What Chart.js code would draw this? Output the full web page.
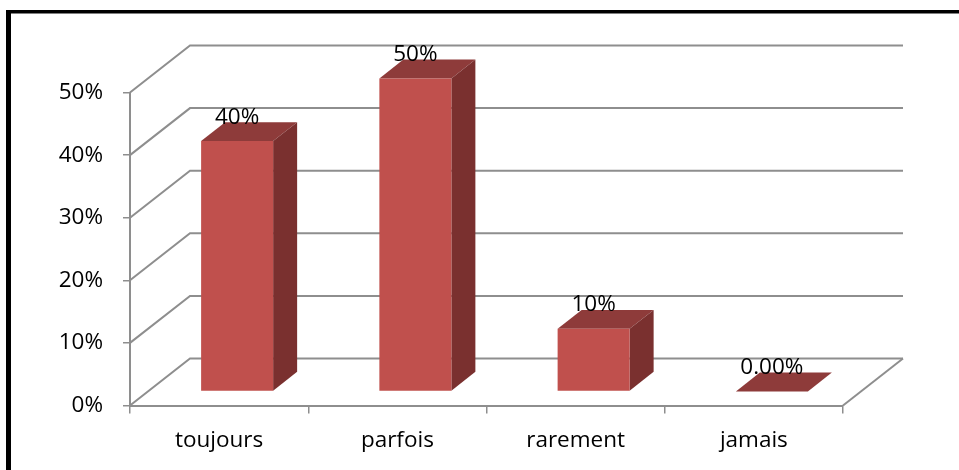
<!DOCTYPE html>
<html>
<head>
<meta charset="utf-8">
<script src="https://cdn.jsdelivr.net/npm/chart.js@4.4.0/dist/chart.umd.min.js"></script>
<style>
    html, body { margin: 0; padding: 0; background: #fff; }
    #freqChart { display: block; }
</style>
</head>
<body>
<canvas id="freqChart" width="959" height="470"></canvas>
<script>
// Données du graphique
const categories = ['toujours', 'parfois', 'rarement', 'jamais'];
const shares = [0.40, 0.50, 0.10, 0.00];
const shareLabels = ['40%', '50%', '10%', '0.00%'];
const yTickValues = [0, 0.1, 0.2, 0.3, 0.4, 0.5];

// Profondeur de la boîte 3D (décalage du plan arrière)
const DEPTH_DX = 60;
const DEPTH_DY = -47;
const BAR_Z_FRONT = 0.3;
const BAR_Z_BACK = 0.7;

const FONT = { family: "'Open Sans', sans-serif", size: 22.5 };
const GRID_COLOR = '#8e8e8e';
const FRONT_COLOR = '#c0504d';
const TOP_COLOR = '#8e3b3a';
const SIDE_COLOR = '#7a302f';

function poly(ctx, pts, color) {
    ctx.beginPath();
    ctx.moveTo(pts[0][0], pts[0][1]);
    for (let i = 1; i < pts.length; i++) ctx.lineTo(pts[i][0], pts[i][1]);
    ctx.closePath();
    ctx.fillStyle = color;
    ctx.fill();
}

const box3d = {
    id: 'box3d',
    beforeDraw(chart) {
        // cadre noir
        const ctx = chart.ctx;
        ctx.save();
        ctx.fillStyle = '#000';
        ctx.fillRect(6, 10, chart.width - 6, 3.5);
        ctx.fillRect(6, 10, 5, chart.height - 10);
        ctx.restore();
    },
    beforeDatasetsDraw(chart) {
        // murs : lignes de quadrillage sur le côté gauche et le fond
        const ctx = chart.ctx;
        const area = chart.chartArea;
        const y = chart.scales.y;
        ctx.save();
        ctx.strokeStyle = GRID_COLOR;
        ctx.lineWidth = 2;
        yTickValues.forEach(v => {
            const py = y.getPixelForValue(v);
            ctx.beginPath();
            ctx.moveTo(area.left, py);
            ctx.lineTo(area.left + DEPTH_DX, py + DEPTH_DY);
            ctx.lineTo(area.right + DEPTH_DX, py + DEPTH_DY);
            ctx.stroke();
        });
        const p0 = y.getPixelForValue(0);
        ctx.beginPath();
        ctx.moveTo(area.right, p0);
        ctx.lineTo(area.right + DEPTH_DX, p0 + DEPTH_DY);
        ctx.stroke();
        ctx.restore();
    },
    afterDatasetsDraw(chart) {
        const ctx = chart.ctx;
        const meta = chart.getDatasetMeta(0);
        const fx = BAR_Z_FRONT * DEPTH_DX, fy = BAR_Z_FRONT * DEPTH_DY;
        const bx = BAR_Z_BACK * DEPTH_DX, by = BAR_Z_BACK * DEPTH_DY;
        ctx.save();
        meta.data.forEach((bar, i) => {
            const x0 = bar.x - bar.width / 2, x1 = bar.x + bar.width / 2;
            const yt = bar.y, yb = bar.base;
            // dessus
            poly(ctx, [[x0 + fx, yt + fy], [x1 + fx, yt + fy], [x1 + bx, yt + by], [x0 + bx, yt + by]], TOP_COLOR);
            // côté droit puis face avant
            if (yb - yt > 0.5) {
                poly(ctx, [[x1 + fx, yt + fy], [x1 + bx, yt + by], [x1 + bx, yb + by], [x1 + fx, yb + fy]], SIDE_COLOR);
                poly(ctx, [[x0 + fx, yt + fy], [x1 + fx, yt + fy], [x1 + fx, yb + fy], [x0 + fx, yb + fy]], FRONT_COLOR);
            }
            // étiquette de valeur
            ctx.fillStyle = '#000';
            ctx.font = FONT.size + 'px ' + FONT.family;
            ctx.textAlign = 'center';
            ctx.textBaseline = 'middle';
            ctx.fillText(shareLabels[i], bar.x + fx, yt + by - 5);
        });
        ctx.restore();
    }
};

new Chart(document.getElementById('freqChart'), {
    type: 'bar',
    data: {
        labels: categories,
        datasets: [{
            data: shares,
            backgroundColor: 'rgba(0,0,0,0)',
            borderWidth: 0,
            barPercentage: 0.404,
            categoryPercentage: 1.0
        }]
    },
    options: {
        responsive: false,
        animation: false,
        layout: { padding: { left: 0, top: 92.5, right: 116, bottom: 0 } },
        plugins: {
            legend: { display: false },
            tooltip: { enabled: false }
        },
        scales: {
            x: {
                grid: {
                    offset: true,
                    drawOnChartArea: false,
                    drawTicks: true,
                    tickLength: 8,
                    color: GRID_COLOR,
                    lineWidth: 1.5
                },
                border: { display: true, color: GRID_COLOR, width: 2 },
                ticks: { color: '#000', font: FONT, padding: 14, maxRotation: 0 },
                afterFit(scale) { scale.height = 64.5; }
            },
            y: {
                min: 0,
                max: 0.5,
                grid: {
                    drawOnChartArea: false,
                    drawTicks: true,
                    tickLength: 7,
                    color: GRID_COLOR,
                    lineWidth: 1.5
                },
                border: { display: true, color: GRID_COLOR, width: 2 },
                ticks: {
                    stepSize: 0.1,
                    color: '#000',
                    font: FONT,
                    padding: 20,
                    callback: v => Math.round(v * 100) + '%'
                },
                afterFit(scale) { scale.width = 130; }
            }
        }
    },
    plugins: [box3d]
});
</script>
</body>
</html>
